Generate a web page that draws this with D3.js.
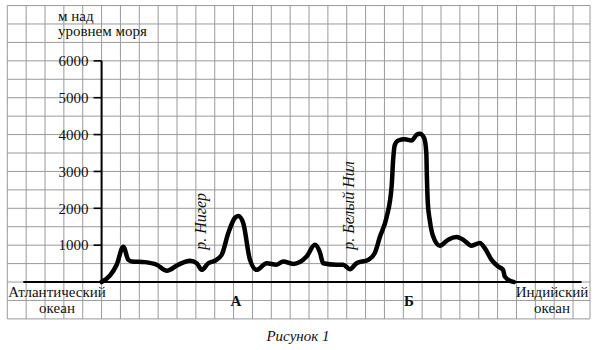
<!DOCTYPE html>
<html>
<head>
<meta charset="utf-8">
<script src="https://cdn.jsdelivr.net/npm/d3@7"></script>
<style>
  body { margin: 0; background: #fff; }
</style>
</head>
<body>
<script>
// ! Profile data: distance in grid cells from the axis, elevation in metres
const dist = [0, 0.45, 0.8, 1.15, 1.42, 1.6, 2.3, 2.92, 3.46, 4.07, 4.69, 5.05, 5.31, 5.66,
  6.01, 6.37, 6.72, 7.07, 7.25, 7.51, 7.87, 8.22, 8.75, 9.28, 9.63, 10.16, 10.87, 11.31,
  11.58, 11.75, 12.46, 12.81, 13.17, 13.52, 14.14, 14.49, 14.76, 15.11, 15.38, 15.46,
  15.55, 15.73, 16.08, 16.44, 16.7, 16.88, 17.11, 17.22, 17.25, 17.3, 17.4, 17.58, 17.94,
  18.38, 18.82, 19.17, 19.62, 20.06, 20.32, 20.68, 21.03, 21.29, 21.38, 21.74, 21.86];
const elev = [0, 180, 470, 960, 600, 560, 540, 470, 305, 470, 577, 510, 330, 510,
  577, 740, 1330, 1740, 1790, 1600, 600, 330, 510, 470, 560, 490, 690, 1010,
  800, 510, 470, 470, 350, 510, 600, 790, 1230, 1750, 2590, 3310,
  3720, 3840, 3875, 3840, 3990, 4020, 3900, 3500, 2860, 2140, 1690, 1240, 985,
  1150, 1220, 1150, 985, 1060, 920, 600, 420, 330, 150, 15, 0];

const yTicks = [1000, 2000, 3000, 4000, 5000, 6000];
const pointNames = ["А", "Б"];
const pointDist = [7.13, 16.3];
const riverNames = ["р. Нигер", "р. Белый Нил"];
const riverDist = [5.54, 13.38];
const riverElev = [875, 875];

const width = 596;
const height = 350;

const svg = d3.select("body").append("svg")
  .attr("width", width)
  .attr("height", height)
  .attr("font-family", "'Liberation Serif', 'DejaVu Serif', serif")
  .attr("fill", "#111");

// ! Scales (one grid cell = 500 m vertically)
const x = d3.scaleLinear().domain([-5, 25.9]).range([7.3, 590]);
const y = d3.scaleLinear().domain([-1000, 7500]).range([318.9, 5.55]);

// ! Graph paper grid
const grid = svg.append("g").attr("stroke", "#9a9a9a").attr("stroke-width", 1);
grid.selectAll(".v")
  .data(d3.range(-5, 26).concat([25.9]))
  .enter().append("line")
  .attr("x1", d => x(d)).attr("x2", d => x(d))
  .attr("y1", y(7500)).attr("y2", y(-1000));
grid.selectAll(".h")
  .data(d3.range(-1000, 7501, 500))
  .enter().append("line")
  .attr("x1", x(-5)).attr("x2", x(25.9))
  .attr("y1", d => y(d)).attr("y2", d => y(d));

// ! Axes
svg.append("line")
  .attr("x1", x(0)).attr("x2", x(0))
  .attr("y1", y(6000)).attr("y2", y(0))
  .attr("stroke", "#000").attr("stroke-width", 2);
svg.append("line")
  .attr("x1", x(-4.15)).attr("x2", x(25.45))
  .attr("y1", y(0)).attr("y2", y(0))
  .attr("stroke", "#000").attr("stroke-width", 2);

const yAxis = svg.append("g");
yAxis.selectAll("line")
  .data(yTicks).enter().append("line")
  .attr("x1", x(0) - 8).attr("x2", x(0))
  .attr("y1", d => y(d)).attr("y2", d => y(d))
  .attr("stroke", "#000").attr("stroke-width", 1.6);
yAxis.selectAll("text")
  .data(yTicks).enter().append("text")
  .attr("x", x(0) - 13)
  .attr("y", d => y(d))
  .attr("dy", "0.35em")
  .attr("text-anchor", "end")
  .style("font-size", "15px")
  .text(d => d);

// ! Axis title
svg.append("text").attr("x", 58).attr("y", 21).style("font-size", "15px").text("м над");
svg.append("text").attr("x", 58).attr("y", 36).style("font-size", "15px").text("уровнем моря");

// ! Profile line
const line = d3.line()
  .x((d, i) => x(dist[i]))
  .y(d => y(d))
  .curve(d3.curveMonotoneX);
svg.append("path")
  .datum(elev)
  .attr("d", line)
  .attr("fill", "none")
  .attr("stroke", "#000")
  .attr("stroke-width", 4.5)
  .attr("stroke-linejoin", "round")
  .attr("stroke-linecap", "round");

// ! River labels
svg.selectAll(".river")
  .data(riverNames).enter().append("text")
  .attr("transform", (d, i) => `translate(${x(riverDist[i])},${y(riverElev[i])}) rotate(-90)`)
  .style("font-size", "16px")
  .style("font-style", "italic")
  .text(d => d);

// ! Point labels А, Б
svg.selectAll(".pt")
  .data(pointNames).enter().append("text")
  .attr("x", (d, i) => x(pointDist[i]))
  .attr("y", 306)
  .attr("text-anchor", "middle")
  .style("font-size", "15px")
  .style("font-weight", "bold")
  .text(d => d);

// ! Ocean labels
const ocean = [["Атлантический", "океан", 57], ["Индийский", "океан", 552]];
ocean.forEach(o => {
  svg.append("text").attr("x", o[2]).attr("y", 297).attr("text-anchor", "middle")
    .style("font-size", "15px").text(o[0]);
  svg.append("text").attr("x", o[2]).attr("y", 313).attr("text-anchor", "middle")
    .style("font-size", "15px").text(o[1]);
});

// ! Caption
svg.append("text")
  .attr("x", 298).attr("y", 341)
  .attr("text-anchor", "middle")
  .style("font-size", "15px")
  .style("font-style", "italic")
  .text("Рисунок 1");
</script>
</body>
</html>
